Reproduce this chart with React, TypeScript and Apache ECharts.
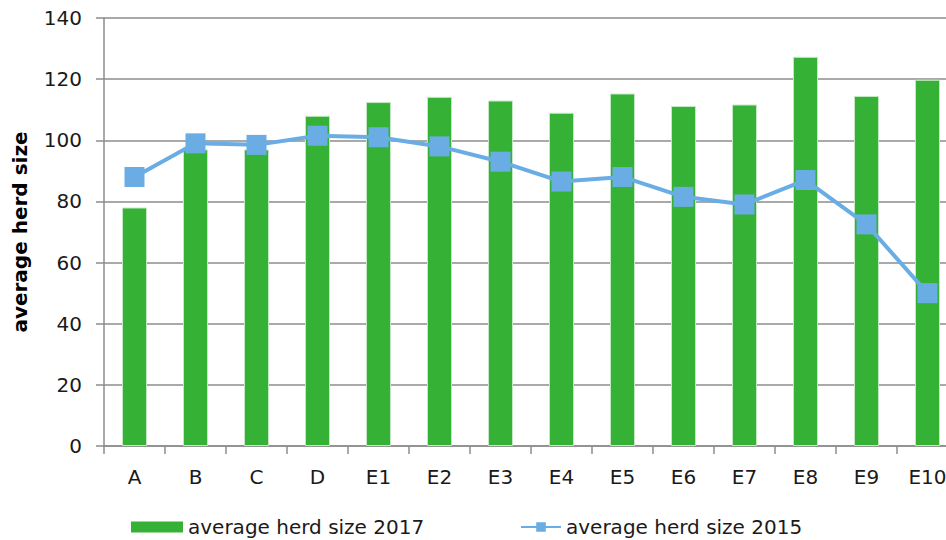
import React, { useEffect, useRef } from "react";
import * as echarts from "echarts";

const categories = ["A", "B", "C", "D", "E1", "E2", "E3", "E4", "E5", "E6", "E7", "E8", "E9", "E10"];
const herd2017 = [78, 97, 97, 108, 112.5, 114.2, 113, 109, 115.3, 111.2, 111.7, 127.3, 114.5, 119.8];
const herd2015 = [88, 99, 98.5, 101.5, 101, 98, 93, 86.5, 88, 81.5, 79, 87, 72.5, 50];
const yTicks = { min: 0, max: 140, interval: 20 };

export default function App() {
  const ref = useRef<HTMLDivElement>(null);
  useEffect(() => {
    if (!ref.current) return;
    const chart = echarts.init(ref.current, undefined, { renderer: "svg" });
    const font = "DejaVu Sans, Verdana, sans-serif";
    const legendText = { fontFamily: font, fontSize: 20, color: "#1a1a1a" };
    chart.setOption({
      animation: false,
      backgroundColor: "#ffffff",
      textStyle: { fontFamily: font },
      grid: { left: 104, top: 18, bottom: 94, right: -12, outerBoundsMode: "none" },
      legend: [
        {
          left: 131,
          top: 517,
          padding: 0,
          itemWidth: 52,
          itemHeight: 11,
          itemGap: 5,
          textStyle: legendText,
          data: [{ name: "average herd size 2017", icon: "rect", itemStyle: { borderWidth: 0 } }],
        },
        {
          left: 520,
          top: 517,
          padding: 0,
          itemWidth: 40,
          itemHeight: 12,
          textStyle: legendText,
          data: [{ name: "average herd size 2015" }],
        },
      ],
      xAxis: {
        type: "category",
        data: categories,
        boundaryGap: true,
        axisLine: { show: true, lineStyle: { color: "#8c8c8c", width: 1.5 } },
        axisTick: { show: true, length: 8, alignWithLabel: false, interval: 0, lineStyle: { color: "#8c8c8c", width: 1.5 } },
        axisLabel: { fontFamily: font, fontSize: 20, color: "#1a1a1a", margin: 21, interval: 0 },
      },
      yAxis: {
        type: "value",
        min: yTicks.min,
        max: yTicks.max,
        interval: yTicks.interval,
        name: "average herd size",
        nameLocation: "middle",
        nameGap: 74,
        nameTextStyle: { fontFamily: font, fontSize: 20, fontWeight: "bold", color: "#000" },
        axisLine: { show: true, lineStyle: { color: "#8c8c8c", width: 1.5 } },
        axisTick: { show: true, length: 8, lineStyle: { color: "#8c8c8c", width: 1.5 } },
        axisLabel: { fontFamily: font, fontSize: 20, color: "#1a1a1a", margin: 22 },
        splitLine: { show: true, lineStyle: { color: "#8c8c8c", width: 1.5 } },
      },
      series: [
        {
          name: "average herd size 2017",
          type: "bar",
          data: herd2017,
          barWidth: 25,
          itemStyle: { color: "#35b235", borderColor: "#c4e8c4", borderWidth: 1 },
          z: 2,
        },
        {
          name: "average herd size 2015",
          type: "line",
          data: herd2015,
          symbol: "rect",
          symbolSize: 20,
          lineStyle: { color: "#6aade4", width: 4 },
          itemStyle: { color: "#6aade4" },
          z: 3,
        },
      ],
    });
    return () => chart.dispose();
  }, []);
  return <div ref={ref} style={{ width: 946, height: 540, position: "absolute", left: 0, top: 0 }} />;
}
